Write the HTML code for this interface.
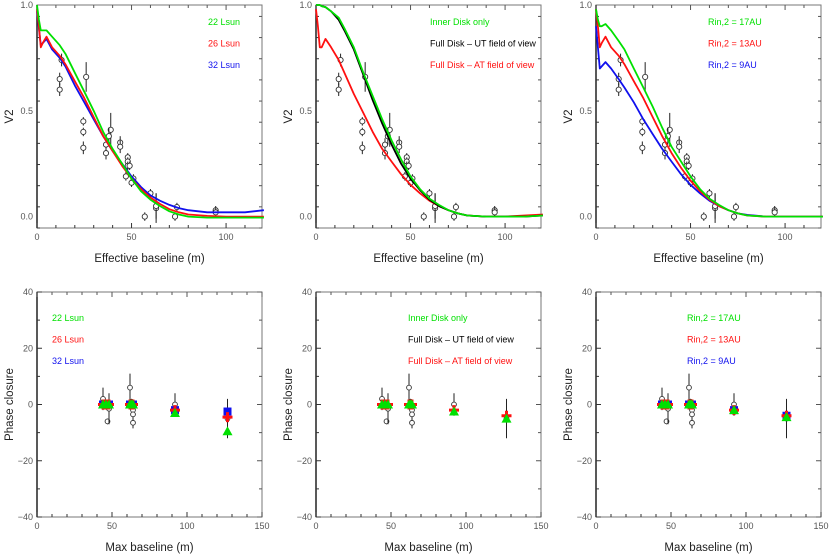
<!DOCTYPE html>
<html><head><meta charset="utf-8"><style>
html,body{margin:0;padding:0;background:#fff;}
svg{display:block;font-family:"Liberation Sans",sans-serif;}
</style></head><body>
<svg id="c" width="830" height="557" viewBox="0 0 830 557"></svg>
<script>
// ---- data ----
const obsX = [13,12,12,26,24.5,24.5,24.5,36.5,36.5,39,38,44,44,48,48,48,49,47,50,51,57,60,63,63,73,74,94.5,94.5];
const obsY = [0.74,0.65,0.60,0.66,0.45,0.40,0.325,0.34,0.30,0.41,0.38,0.35,0.33,0.28,0.26,0.24,0.24,0.19,0.16,0.18,0.00,0.11,0.04,0.05,0.00,0.045,0.03,0.02];
const obsErr = [0.03,0.03,0.03,0.07,0.02,0.02,0.03,0.03,0.03,0.08,0.04,0.03,0.03,0.02,0.02,0.02,0.02,0.02,0.02,0.02,0.02,0.02,0.07,0.06,0.02,0.02,0.02,0.02];
const modelX = [0,1,2,3,5,8,12,15,20,25,30,35,40,45,50,55,60,65,70,75,80,90,100,110,120];
const tlGreen = [1.0,0.93,0.88,0.88,0.88,0.85,0.81,0.77,0.68,0.59,0.50,0.40,0.32,0.25,0.18,0.12,0.08,0.05,0.025,0.01,0.0,-0.005,-0.005,-0.005,-0.005];
const tlRed   = [0.98,0.90,0.80,0.82,0.85,0.80,0.76,0.72,0.64,0.56,0.47,0.38,0.31,0.24,0.18,0.13,0.09,0.06,0.035,0.02,0.01,0.003,0.0,0.0,0.0];
const tlBlue  = [0.97,0.89,0.81,0.82,0.84,0.79,0.75,0.71,0.62,0.54,0.46,0.38,0.31,0.25,0.19,0.14,0.10,0.075,0.055,0.04,0.03,0.02,0.02,0.02,0.03];
const tmGreen = [1.0,1.0,1.0,0.995,0.99,0.97,0.94,0.89,0.80,0.68,0.57,0.46,0.36,0.27,0.19,0.13,0.085,0.055,0.03,0.015,0.005,0.0,0.0,0.0,0.005];
const tmBlack = [1.0,1.0,1.0,0.995,0.99,0.97,0.93,0.88,0.79,0.67,0.55,0.44,0.34,0.25,0.18,0.125,0.08,0.05,0.03,0.015,0.005,0.0,0.0,0.0,0.005];
const tmRed   = [0.98,0.90,0.80,0.80,0.84,0.80,0.74,0.68,0.58,0.49,0.40,0.32,0.26,0.20,0.15,0.11,0.075,0.05,0.03,0.015,0.005,0.0,0.0,0.005,0.01];
const trGreen = [0.98,0.93,0.90,0.90,0.91,0.88,0.83,0.79,0.70,0.61,0.52,0.42,0.33,0.26,0.19,0.13,0.085,0.055,0.03,0.015,0.005,0.0,0.0,0.0,0.0];
const trRed   = [0.98,0.90,0.80,0.82,0.85,0.80,0.76,0.72,0.64,0.56,0.47,0.38,0.30,0.23,0.17,0.12,0.08,0.05,0.03,0.015,0.005,0.0,0.0,0.0,0.0];
const trBlue  = [0.90,0.80,0.70,0.71,0.73,0.70,0.65,0.61,0.54,0.46,0.39,0.32,0.26,0.20,0.15,0.11,0.075,0.05,0.03,0.015,0.008,0.0,0.0,0.0,0.0];
const cpX = [44,46,47,48,62,63,64,64,64,92,127];
const cpY = [2,0,-6,-1.5,6,1,-2,-3.5,-6.5,0,-5];
const cpErr = [4,1,1,5.5,5,1,1,1,2,4,7];
const cpModelX = [44,46,48,62,63,64,92,127];
const blGreen = [0,0,0,0,0,0,-3,-9.5];
const blRed   = [0,0,0,0,0,0,-2,-4.5];
const blBlue  = [0,0,0,0,0,0,-2,-2.5];
const bmGreen = [0,0,0,0,0,0,-2.5,-5];
const bmRed   = [0,0,0,0,0,0,-2,-4];
const brGreen = [0,0,0,0,0,0,-2,-4.5];
const brRed   = [0,0,0,0,0,0,-2,-4];
const brBlue  = [0,0,0,0,0,0,-2,-4];
const topYTicks = ['0.0','0.5','1.0'];
const topXTicks = ['0','50','100'];
const botYTicks = ['-40','-20','0','20','40'];
const botXTicks = ['0','50','100','150'];

const S = document.getElementById('c');
const NS = 'http://www.w3.org/2000/svg';
function mk(tag, attrs, parent, text){
  const e = document.createElementNS(NS, tag);
  for (const k in attrs) e.setAttribute(k, attrs[k]);
  if (text !== undefined) e.textContent = text;
  (parent || S).appendChild(e);
  return e;
}
function panel(L, T, W, H, xmin, xmax, ymin, ymax, xt, yt, xminor, yminor, xtitle, ytitle, name){
  const g = mk('g', {});
  
  
  const sx = v => L + (v - xmin) / (xmax - xmin) * W;
  const sy = v => T + H - (v - ymin) / (ymax - ymin) * H;
  const fr = mk('rect', {x:L, y:T, width:W, height:H, fill:'none', stroke:'#777', 'stroke-width':1}, g);
  
  
  mk('line', {x1:L, y1:T, x2:L, y2:T+H, stroke:'#222', 'stroke-width':1.5}, g);
  for (let v = xmin; v <= xmax + 1e-9; v += xminor){
    const major = xt.some(t => Math.abs(+t - v) < 1e-6);
    const len = major ? 5 : 3;
    mk('line', {x1:sx(v), y1:T+H, x2:sx(v), y2:T+H-len, stroke:'#333'}, g);
    mk('line', {x1:sx(v), y1:T, x2:sx(v), y2:T+len, stroke:'#555'}, g);
  }
  for (let v = ymin; v <= ymax + 1e-9; v += yminor){
    const major = yt.some(t => Math.abs(+t - v) < 1e-6);
    const len = major ? 5 : 3;
    mk('line', {x1:L, y1:sy(v), x2:L+len, y2:sy(v), stroke:'#333'}, g);
    mk('line', {x1:L+W, y1:sy(v), x2:L+W-len, y2:sy(v), stroke:'#555'}, g);
  }
  xt.forEach(t => {
    const e = mk('text', {x:sx(+t), y:T+H+12, 'font-size':9, fill:'#555', 'text-anchor':'middle'}, g, t);
    
    
  });
  yt.forEach(t => {
    const e = mk('text', {x:L-4, y:sy(+t)+3, 'font-size':9, fill:'#555', 'text-anchor':'end'}, g, t.replace('-', '\u2212'));
    
    
  });
  const xtt = mk('text', {x:L+W/2, y:T+H+34, 'font-size':11.5, fill:'#222', 'text-anchor':'middle'}, g, xtitle);
  
  
  const yx = L - 24, yy = T + H/2;
  const ytt = mk('text', {x:yx, y:yy, 'font-size':11.5, fill:'#222', 'text-anchor':'middle', transform:'rotate(-90 '+yx+' '+yy+')'}, g, ytitle);
  
  
  return {g, sx, sy, L, T, W, H};
}
function curve(p, xs, ys, col, name){
  const d = xs.map((x,i)=> (i?'L':'M') + p.sx(x).toFixed(1) + ' ' + p.sy(ys[i]).toFixed(1)).join(' ');
  const e = mk('path', {d, fill:'none', stroke:col, 'stroke-width':1.8, 'stroke-linejoin':'round'}, p.g);
  
  
}
function obs(p, xs, ys, es, r){
  xs.forEach((x,i)=>{
    const l = mk('line', {x1:p.sx(x), y1:p.sy(ys[i]-es[i]), x2:p.sx(x), y2:p.sy(ys[i]+es[i]), stroke:'#222', 'stroke-width':1}, p.g);
    
    
    const c = mk('circle', {cx:p.sx(x), cy:p.sy(ys[i]), r:r, fill:'#fff', stroke:'#333', 'stroke-width':0.9}, p.g);
    
    
  });
}
function marks(p, xs, ys, col, shape, name){
  xs.forEach((x,i)=>{
    const cx = p.sx(x), cy = p.sy(ys[i]);
    let e;
    if (shape === 'tri') e = mk('polygon', {points:(cx-5)+','+(cy+4)+' '+(cx+5)+','+(cy+4)+' '+cx+','+(cy-5), fill:col}, p.g);
    else if (shape === 'sq') e = mk('rect', {x:cx-4, y:cy-4, width:8, height:8, fill:col}, p.g);
    else e = mk('path', {d:'M'+(cx-5)+' '+cy+'H'+(cx+5)+'M'+cx+' '+(cy-5)+'V'+(cy+5), stroke:col, 'stroke-width':3}, p.g);
    
    
  });
}
function legend(p, x, y0, items){
  items.forEach((it,i)=>{
    const e = mk('text', {x:x, y:y0 + i*21.5, 'font-size':9, fill:it[1]}, p.g, it[0]);
    
    
  });
}
const G='#00e000', R='#ff1010', B='#1010ee', K='#000';
const lefts = [37, 316, 596];
// top panels
const tops = lefts.map((L,i)=> panel(L, 5, 225, 223, 0, 119, -0.054, 1.0, topXTicks, topYTicks, 10, 0.1, 'Effective baseline (m)', 'V2', 'visibility-panel-'+(i+1)));
obs(tops[0], obsX, obsY, obsErr, 2.6); obs(tops[1], obsX, obsY, obsErr, 2.6); obs(tops[2], obsX, obsY, obsErr, 2.6);
curve(tops[0], modelX, tlBlue, B, 'curve-32-lsun');
curve(tops[0], modelX, tlRed, R, 'curve-26-lsun');
curve(tops[0], modelX, tlGreen, G, 'curve-22-lsun');
curve(tops[1], modelX, tmRed, R, 'curve-full-disk-at');
curve(tops[1], modelX, tmBlack, K, 'curve-full-disk-ut');
curve(tops[1], modelX, tmGreen, G, 'curve-inner-disk');
curve(tops[2], modelX, trBlue, B, 'curve-rin-9au');
curve(tops[2], modelX, trRed, R, 'curve-rin-13au');
curve(tops[2], modelX, trGreen, G, 'curve-rin-17au');
legend(tops[0], 208, 25, [['22 Lsun',G],['26 Lsun',R],['32 Lsun',B]]);
legend(tops[1], 430, 25, [['Inner Disk only',G],['Full Disk \u2013 UT field of view',K],['Full Disk \u2013 AT field of view',R]]);
legend(tops[2], 708, 25, [['Rin,2 = 17AU',G],['Rin,2 = 13AU',R],['Rin,2 = 9AU',B]]);
// bottom panels
const bots = lefts.map((L,i)=> panel(L, 292, 225, 225, 0, 150, -40, 40, botXTicks, botYTicks, 10, 10, 'Max baseline (m)', 'Phase closure', 'closure-phase-panel-'+(i+1)));
bots.forEach(p => obs(p, cpX, cpY, cpErr, 2.4));
marks(bots[0], cpModelX, blBlue, B, 'sq', 'marker-32-lsun');
marks(bots[0], cpModelX, blRed, R, 'cross', 'marker-26-lsun');
marks(bots[0], cpModelX, blGreen, G, 'tri', 'marker-22-lsun');
marks(bots[1], cpModelX, bmRed, R, 'cross', 'marker-full-disk-at');
marks(bots[1], cpModelX, bmGreen, G, 'tri', 'marker-inner-disk');
marks(bots[2], cpModelX, brBlue, B, 'sq', 'marker-rin-9au');
marks(bots[2], cpModelX, brRed, R, 'cross', 'marker-rin-13au');
marks(bots[2], cpModelX, brGreen, G, 'tri', 'marker-rin-17au');
legend(bots[0], 52, 321, [['22 Lsun',G],['26 Lsun',R],['32 Lsun',B]]);
legend(bots[1], 408, 321, [['Inner Disk only',G],['Full Disk \u2013 UT field of view',K],['Full Disk \u2013 AT field of view',R]]);
legend(bots[2], 687, 321, [['Rin,2 = 17AU',G],['Rin,2 = 13AU',R],['Rin,2 = 9AU',B]]);
</script>
</body></html>
